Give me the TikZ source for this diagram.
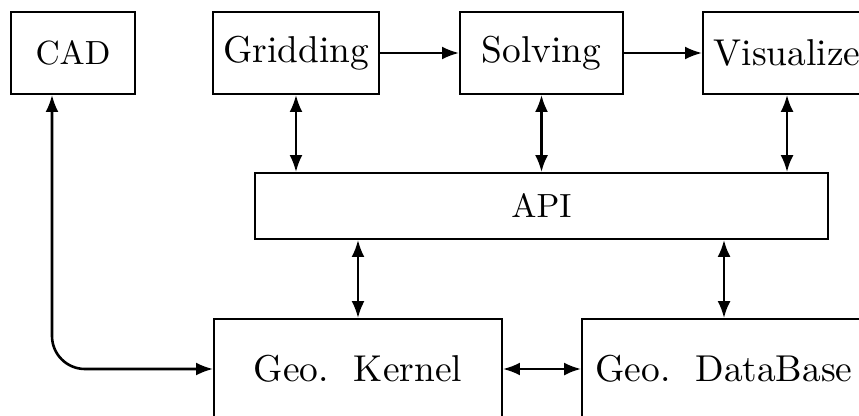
\documentclass[tikz,border=0pt]{standalone}
\usepackage{graphicx}
\usetikzlibrary{arrows.meta}

% large labels: Latin Modern 10 design, scaled up
\newcommand\biglbl[1]{\scalebox{3.74}{#1}}
\newcommand\midlbl[1]{\scalebox{3.35}{#1}}

\begin{document}
\begin{tikzpicture}[x=1pt, y=-1pt,
  blk/.style={draw, line width=1.8pt, inner sep=0pt, font=\fontsize{10}{12}\selectfont},
  tip/.tip={Latex[length=17pt,width=13pt]},
  flow/.style={line width=2.6pt, -tip},
  dbl/.style={line width=2.6pt, tip-tip}]
  \useasboundingbox (0,0) rectangle (859,415);
  \clip (0,0) rectangle (859,415);

  % top row
  \node[blk, minimum width=124pt, minimum height=82pt] (cad)  at (73,53)    {\midlbl{CAD}};
  \node[blk, minimum width=166pt, minimum height=82pt] (grid) at (296,53)   {\biglbl{Gridding}};
  \node[blk, minimum width=163pt, minimum height=82pt] (solv) at (541.5,53) {\biglbl{Solving}};
  \node[blk, minimum width=168pt, minimum height=82pt] (vis)  at (787,53)   {\biglbl{Visualize}};

  % API layer
  \node[blk, minimum width=573pt, minimum height=66pt] (api) at (541.5,206) {\midlbl{API}};

  % geometry layer
  \node[blk, minimum width=288pt, minimum height=100pt] (kern) at (358,369) {\biglbl{Geo.\ \ Kernel}};
  \node[blk, minimum width=284pt, minimum height=100pt] (gdb)  at (724,369) {\biglbl{Geo.\ \ DataBase}};

  % pipeline
  \draw[flow] (grid.east) -- (solv.west);
  \draw[flow] (solv.east) -- (vis.west);

  % modules <-> API
  \draw[dbl] (grid.south) -- (grid.south |- api.north);
  \draw[dbl] (solv.south) -- (solv.south |- api.north);
  \draw[dbl] (vis.south)  -- (vis.south |- api.north);

  % API <-> geometry
  \draw[dbl] (kern.north |- api.south) -- (kern.north);
  \draw[dbl] (gdb.north |- api.south)  -- (gdb.north);

  % CAD <-> kernel, kernel <-> database
  \draw[dbl, rounded corners=33pt] ([xshift=-21pt]cad.south) |- (kern.west);
  \draw[dbl] (kern.east) -- (gdb.west);
\end{tikzpicture}
\end{document}
